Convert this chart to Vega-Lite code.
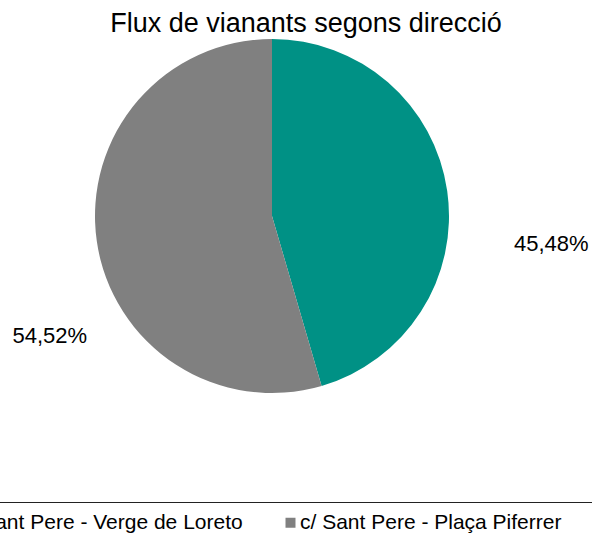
{
  "$schema": "https://vega.github.io/schema/vega-lite/v6.json",
  "autosize": "none",
  "padding": {"left": 0, "top": 40, "right": 48, "bottom": 142},
  "width": 544,
  "height": 352,
  "background": "white",
  "config": {"view": {"stroke": null}, "font": "Liberation Sans"},
  "title": {
    "text": "Flux de vianants segons direcció",
    "font": "Liberation Sans",
    "fontSize": 27,
    "fontWeight": "normal",
    "color": "#000000",
    "anchor": "middle",
    "dx": 34,
    "offset": 1
  },
  "data": {
    "values": [
      {"direccio": "c/ Sant Pere - Verge de Loreto", "pct": 45.48, "label": "45,48%"},
      {"direccio": "c/ Sant Pere - Plaça Piferrer", "pct": 54.52, "label": "54,52%"}
    ]
  },
  "encoding": {
    "theta": {"field": "pct", "type": "quantitative", "stack": true},
    "order": {"field": "pct", "type": "quantitative", "sort": "ascending"},
    "color": {
      "field": "direccio",
      "type": "nominal",
      "sort": ["c/ Sant Pere - Verge de Loreto", "c/ Sant Pere - Plaça Piferrer"],
      "scale": {
        "domain": ["c/ Sant Pere - Verge de Loreto", "c/ Sant Pere - Plaça Piferrer"],
        "range": ["#009185", "#808080"]
      },
      "legend": {
        "orient": "none",
        "legendX": -71,
        "legendY": 462,
        "direction": "horizontal",
        "columns": 2,
        "gridAlign": "all",
        "title": " ",
        "titleOrient": "right",
        "titlePadding": 40,
        "titleFontSize": 10,
        "symbolType": "square",
        "symbolSize": 100,
        "symbolStrokeWidth": 0,
        "labelFont": "Liberation Sans",
        "labelFontSize": 21,
        "labelColor": "#000000",
        "labelLimit": 400,
        "labelOffset": -1,
        "columnPadding": 37,
        "strokeColor": "#222222",
        "padding": 10
      }
    }
  },
  "layer": [
    {"mark": {"type": "arc", "outerRadius": 177}},
    {
      "mark": {"type": "text", "radius": 270, "dx": 12, "dy": 66, "font": "Liberation Sans", "fontSize": 22, "color": "#000000", "align": "center", "baseline": "middle"},
      "encoding": {
        "text": {"condition": {"test": "datum.pct < 50", "field": "label"}, "value": ""},
        "color": {"value": "#000000"}
      }
    },
    {
      "mark": {"type": "text", "radius": 270, "dx": 45, "dy": 82, "font": "Liberation Sans", "fontSize": 22, "color": "#000000", "align": "center", "baseline": "middle"},
      "encoding": {
        "text": {"condition": {"test": "datum.pct > 50", "field": "label"}, "value": ""},
        "color": {"value": "#000000"}
      }
    }
  ]
}
